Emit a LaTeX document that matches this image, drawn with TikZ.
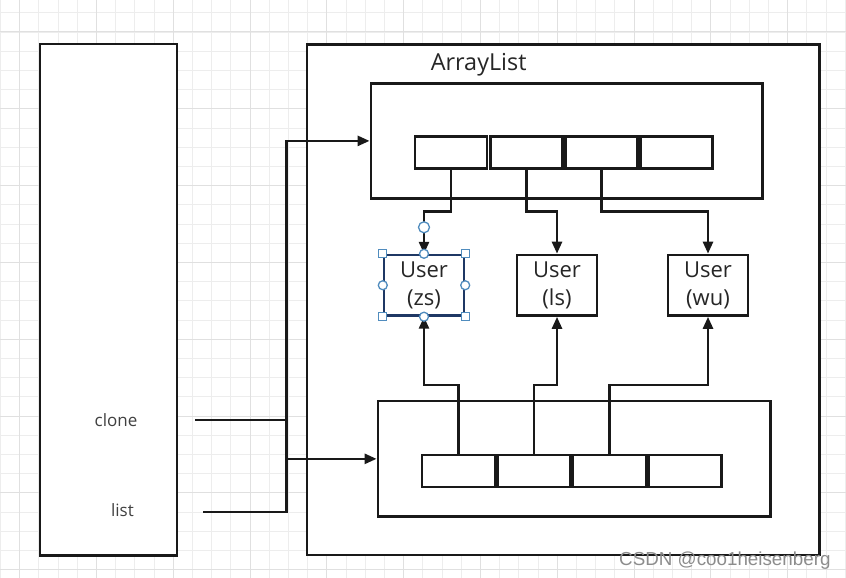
\documentclass[tikz,border=0pt]{standalone}
\usepackage{fontspec}
\setmainfont{Open Sans}
\newfontfamily\wmfont{Liberation Sans}
\usetikzlibrary{arrows.meta,calc}
\definecolor{navy}{RGB}{31,56,100}
\definecolor{handleblue}{RGB}{80,140,190}
\begin{document}
\begin{tikzpicture}[x=1pt,y=-1pt,
  gridminor/.style={draw=black!7, line width=0.8pt},
  gridmajor/.style={draw=black!12, line width=1pt},
  box/.style={draw=black!90, line width=2.9pt, fill=white, inner sep=0pt, rectangle},
  slot/.style={draw=black!90, line width=2.7pt, fill=white, inner sep=0pt, minimum width=72pt, minimum height=32pt},
  userbox/.style={draw=black!90, line width=2.7pt, fill=white, inner sep=0pt, minimum width=80pt, minimum height=60.5pt, align=center, font=\fontsize{22}{28.5}\selectfont, text=black!85},
  conn/.style={draw=black!90, line width=2.6pt},
  arr/.style={conn, -{Triangle[length=12pt,width=10pt]}},
  lbl/.style={anchor=base, inner sep=0pt, font=\fontsize{17}{20}\selectfont, text=black!75},
  hsq/.style={draw=handleblue, fill=white, line width=1.3pt, minimum size=8pt, inner sep=0pt, rectangle},
  hcirc/.style={draw=handleblue, fill=white, line width=1.3pt, minimum size=9pt, inner sep=0pt, circle}
]
\useasboundingbox (0,0) rectangle (846,578);
\fill[white] (0,0) rectangle (846,578);
\begin{scope}
\clip (0,0) rectangle (846,578);
\foreach \k in {-1,...,45} \draw[gridminor] ({19.6+19.2*\k},0) -- ({19.6+19.2*\k},578);
\foreach \k in {-2,...,30} \draw[gridminor] (0,{32+19.2*\k}) -- (846,{32+19.2*\k});
\foreach \k in {0,...,11} \draw[gridmajor] ({19.6+76.8*\k},0) -- ({19.6+76.8*\k},578);
\foreach \k in {-1,...,7} \draw[gridmajor] (0,{32+76.8*\k}) -- (846,{32+76.8*\k});
\end{scope}

% main boxes
\node[box, minimum width=137pt, minimum height=511.5pt] (leftbox) at (108.5,299.75) {};
\node[box, minimum width=512.5pt, minimum height=510.5pt] (outer) at (563.25,299.75) {};
\node[anchor=base west, inner sep=0pt, font=\fontsize{23.4}{28}\selectfont, text=black!85] (title) at (430.6,70.7) {ArrayList};

% top list
\node[box, minimum width=391.5pt, minimum height=114.8pt] (topbox) at (566.75,140.9) {};
\node[slot] (ts1) at (451,152.5) {};
\node[slot] (ts2) at (526.5,152.5) {};
\node[slot] (ts3) at (601.5,152.5) {};
\node[slot] (ts4) at (676.5,152.5) {};

% bottom list
\node[box, minimum width=392.5pt, minimum height=115.7pt] (botbox) at (574.25,458.85) {};
\node[slot, minimum width=73pt] (bs1) at (458.5,470.85) {};
\node[slot, minimum width=73pt] (bs2) at (534,470.85) {};
\node[slot, minimum width=73pt] (bs3) at (609.5,470.85) {};
\node[slot, minimum width=73pt] (bs4) at (685,470.85) {};

% users
\node[userbox, draw=navy, line width=2.4pt] (zs) at (424,285.25) {User\\(zs)};
\node[userbox] (ls) at (557,285.25) {User\\(ls)};
\node[userbox] (wu) at (708,285.25) {User\\(wu)};

% labels
\node[lbl] (clone) at (116,426) {clone};
\node[lbl] (list) at (122.5,516.5) {list};

% helper coordinates
\coordinate (cs) at (195,420);
\coordinate (lsrc) at (203,512);
\coordinate (jx) at (286.5,0);
\coordinate (ty) at (0,211.5);
\coordinate (by) at (0,385);

% connectors from variables
\draw[conn] (cs) -- (cs -| jx);
\draw[arr] (lsrc) -- (lsrc -| jx) |- (topbox.west);
\draw[arr] (botbox.west -| jx) -- (botbox.west);

% top list to users
\draw[arr] (ts1.south) -- (ts1.south |- ty) -| (zs.north);
\draw[arr] (ts2.south) -- (ts2.south |- ty) -| (ls.north);
\draw[arr] (ts3.south) -- (ts3.south |- ty) -| (wu.north);

% bottom list to users
\draw[arr] (bs1.north) -- (bs1.north |- by) -| (zs.south);
\draw[arr] (bs2.north) -- (bs2.north |- by) -| (ls.south);
\draw[arr] (bs3.north) -- (bs3.north |- by) -| (wu.south);

% selection handles on User (zs)
\node[hsq] (h1) at (zs.north west) {};
\node[hsq] (h2) at (zs.north east) {};
\node[hsq] (h3) at (zs.south west) {};
\node[hsq] (h4) at (zs.south east) {};
\node[hcirc] (h5) at (zs.north) {};
\node[hcirc] (h6) at (zs.south) {};
\node[hcirc] (h7) at (zs.west) {};
\node[hcirc] (h8) at (zs.east) {};
\node[hcirc, minimum size=11pt] (h9) at ($(zs.north)+(0,-26.5)$) {};

% watermark
\node[anchor=base west, inner sep=0pt, font=\wmfont\fontsize{18.8}{20}\selectfont, text=black!45] (wm) at (619,565) {CSDN @coo1heisenberg};
\end{tikzpicture}
\end{document}
